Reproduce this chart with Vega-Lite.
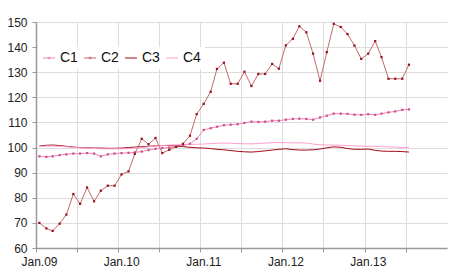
{
  "$schema": "https://vega.github.io/schema/vega-lite/v6.json",
  "width": 411,
  "height": 226,
  "autosize": "none",
  "padding": {"left": 36, "top": 22, "right": 3, "bottom": 31},
  "background": "white",
  "config": {
    "font": "Liberation Sans",
    "view": {"stroke": null},
    "axis": {"labelFont": "Liberation Sans", "labelFontSize": 12, "labelColor": "#222", "domainColor": "#999", "tickColor": "#999", "gridColor": "#dcdcdc", "gridWidth": 1, "title": null}
  },
  "data": {"values": [
    {"m":"2009-01-16","C1":96.5,"C2":70.0,"C3":100.6,"C4":100.4},
    {"m":"2009-02-16","C1":96.3,"C2":67.8,"C3":100.9,"C4":100.6},
    {"m":"2009-03-16","C1":96.5,"C2":66.8,"C3":101.0,"C4":100.6},
    {"m":"2009-04-16","C1":97.0,"C2":69.7,"C3":100.8,"C4":100.5},
    {"m":"2009-05-16","C1":97.3,"C2":73.3,"C3":100.5,"C4":100.3},
    {"m":"2009-06-16","C1":97.6,"C2":81.5,"C3":100.2,"C4":100.1},
    {"m":"2009-07-16","C1":97.6,"C2":77.6,"C3":100.0,"C4":99.9},
    {"m":"2009-08-16","C1":97.8,"C2":84.1,"C3":99.9,"C4":99.8},
    {"m":"2009-09-16","C1":97.6,"C2":78.6,"C3":99.8,"C4":99.6},
    {"m":"2009-10-16","C1":96.5,"C2":82.8,"C3":99.8,"C4":99.5},
    {"m":"2009-11-16","C1":97.3,"C2":84.8,"C3":99.7,"C4":99.5},
    {"m":"2009-12-16","C1":97.6,"C2":84.8,"C3":99.7,"C4":99.5},
    {"m":"2010-01-16","C1":97.8,"C2":89.3,"C3":99.8,"C4":99.5},
    {"m":"2010-02-16","C1":97.9,"C2":90.5,"C3":100.0,"C4":99.6},
    {"m":"2010-03-16","C1":98.1,"C2":97.5,"C3":100.2,"C4":99.8},
    {"m":"2010-04-16","C1":98.4,"C2":103.5,"C3":100.3,"C4":100.0},
    {"m":"2010-05-16","C1":99.0,"C2":101.3,"C3":100.5,"C4":100.3},
    {"m":"2010-06-16","C1":99.5,"C2":103.8,"C3":100.7,"C4":100.6},
    {"m":"2010-07-16","C1":99.8,"C2":97.8,"C3":100.8,"C4":100.8},
    {"m":"2010-08-16","C1":100.0,"C2":99.1,"C3":100.8,"C4":101.0},
    {"m":"2010-09-16","C1":100.3,"C2":100.3,"C3":100.6,"C4":101.1},
    {"m":"2010-10-16","C1":100.8,"C2":101.5,"C3":100.4,"C4":101.2},
    {"m":"2010-11-16","C1":101.5,"C2":104.7,"C3":100.1,"C4":101.3},
    {"m":"2010-12-16","C1":103.5,"C2":113.3,"C3":99.9,"C4":101.3},
    {"m":"2011-01-16","C1":107.0,"C2":117.4,"C3":99.8,"C4":101.4},
    {"m":"2011-02-16","C1":107.7,"C2":122.2,"C3":99.6,"C4":101.6},
    {"m":"2011-03-16","C1":108.3,"C2":131.3,"C3":99.3,"C4":101.7},
    {"m":"2011-04-16","C1":108.9,"C2":133.8,"C3":99.1,"C4":101.8},
    {"m":"2011-05-16","C1":109.1,"C2":125.4,"C3":98.8,"C4":101.7},
    {"m":"2011-06-16","C1":109.3,"C2":125.4,"C3":98.5,"C4":101.6},
    {"m":"2011-07-16","C1":109.8,"C2":130.2,"C3":98.3,"C4":101.5},
    {"m":"2011-08-16","C1":110.3,"C2":124.5,"C3":98.2,"C4":101.5},
    {"m":"2011-09-16","C1":110.2,"C2":129.3,"C3":98.4,"C4":101.6},
    {"m":"2011-10-16","C1":110.3,"C2":129.3,"C3":98.7,"C4":101.8},
    {"m":"2011-11-16","C1":110.7,"C2":133.3,"C3":99.0,"C4":101.9},
    {"m":"2011-12-16","C1":110.7,"C2":131.4,"C3":99.3,"C4":102.0},
    {"m":"2012-01-16","C1":111.1,"C2":140.7,"C3":99.5,"C4":101.9},
    {"m":"2012-02-16","C1":111.4,"C2":143.3,"C3":99.2,"C4":101.9},
    {"m":"2012-03-16","C1":111.5,"C2":148.3,"C3":99.0,"C4":101.9},
    {"m":"2012-04-16","C1":111.4,"C2":145.9,"C3":99.0,"C4":101.8},
    {"m":"2012-05-16","C1":111.1,"C2":137.4,"C3":99.1,"C4":101.4},
    {"m":"2012-06-16","C1":112.0,"C2":126.6,"C3":99.4,"C4":101.1},
    {"m":"2012-07-16","C1":112.7,"C2":138.0,"C3":99.9,"C4":101.0},
    {"m":"2012-08-16","C1":113.5,"C2":149.3,"C3":100.3,"C4":101.0},
    {"m":"2012-09-16","C1":113.5,"C2":148.0,"C3":100.1,"C4":100.9},
    {"m":"2012-10-16","C1":113.4,"C2":145.2,"C3":99.6,"C4":100.8},
    {"m":"2012-11-16","C1":113.1,"C2":140.6,"C3":99.3,"C4":100.7},
    {"m":"2012-12-16","C1":113.0,"C2":135.3,"C3":99.3,"C4":100.6},
    {"m":"2013-01-16","C1":113.3,"C2":137.4,"C3":99.4,"C4":100.5},
    {"m":"2013-02-16","C1":113.0,"C2":142.4,"C3":98.9,"C4":100.5},
    {"m":"2013-03-16","C1":113.5,"C2":136.0,"C3":98.6,"C4":100.4},
    {"m":"2013-04-16","C1":114.0,"C2":127.4,"C3":98.5,"C4":100.3},
    {"m":"2013-05-16","C1":114.4,"C2":127.4,"C3":98.5,"C4":100.2},
    {"m":"2013-06-16","C1":115.0,"C2":127.4,"C3":98.4,"C4":100.0},
    {"m":"2013-07-16","C1":115.2,"C2":133.0,"C3":98.2,"C4":100.1}
  ]},
  "transform": [{"fold": ["C1", "C2", "C3", "C4"], "as": ["series", "value"]}],
  "encoding": {
    "x": {
      "field": "m", "type": "temporal",
      "scale": {"type": "utc", "domain": [{"year": 2009, "month": 1, "date": 1, "utc": true}, {"year": 2014, "month": 1, "date": 1, "utc": true}]},
      "axis": {
        "values": [
          {"year": 2009, "month": 1, "date": 1, "utc": true}, {"year": 2009, "month": 7, "date": 1, "utc": true},
          {"year": 2010, "month": 1, "date": 1, "utc": true}, {"year": 2010, "month": 7, "date": 1, "utc": true},
          {"year": 2011, "month": 1, "date": 1, "utc": true}, {"year": 2011, "month": 7, "date": 1, "utc": true},
          {"year": 2012, "month": 1, "date": 1, "utc": true}, {"year": 2012, "month": 7, "date": 1, "utc": true},
          {"year": 2013, "month": 1, "date": 1, "utc": true}, {"year": 2013, "month": 7, "date": 1, "utc": true}
        ],
        "labelExpr": "utcmonth(datum.value) == 0 ? utcFormat(datum.value, '%b.%y') : ''",
        "labelOverlap": false, "labelFlush": false, "labelOffset": 3, "labelPadding": 4,
        "tickSize": 4, "domainWidth": 1.5, "grid": true
      }
    },
    "y": {
      "field": "value", "type": "quantitative",
      "scale": {"domain": [60, 150], "nice": false, "zero": false},
      "axis": {"values": [60, 70, 80, 90, 100, 110, 120, 130, 140, 150], "tickSize": 4, "labelPadding": 5, "domainWidth": 1.5, "grid": true}
    }
  },
  "layer": [
    {
      "mark": {"type": "line", "interpolate": "linear"},
      "encoding": {
        "color": {
          "field": "series", "type": "nominal",
          "scale": {"domain": ["C1", "C2", "C3", "C4"], "range": ["#ee86b6", "#c46a6a", "#9e0a14", "#ff9fcf"]},
          "legend": {
            "title": null, "orient": "none", "legendX": 2, "legendY": 25, "direction": "horizontal",
            "symbolType": "stroke", "symbolSize": 144, "symbolStrokeWidth": 1.5,
            "labelFontSize": 14, "labelFont": "Liberation Sans", "labelColor": "#111", "labelOffset": 4,
            "columnPadding": 4, "fillColor": "white", "padding": 4,
            "encode": {"symbols": {"update": {"shape": {"signal": "datum.value == 'C1' || datum.value == 'C2' ? 'M-1,0H1M-0.12,-0.12H0.12V0.12H-0.12Z' : 'stroke'"}}}}
          }
        },
        "strokeWidth": {
          "field": "series", "type": "nominal",
          "scale": {"domain": ["C1", "C2", "C3", "C4"], "range": [1, 1, 1.5, 1.5]},
          "legend": null
        }
      }
    },
    {
      "transform": [{"filter": "datum.series == 'C1' || datum.series == 'C2'"}],
      "mark": {"type": "point", "shape": "square", "filled": true, "size": 5, "opacity": 1},
      "encoding": {
        "fill": {
          "field": "series", "type": "nominal",
          "scale": {"domain": ["C1", "C2"], "range": ["#d0508e", "#9a1020"]},
          "legend": null
        }
      }
    }
  ]
}
